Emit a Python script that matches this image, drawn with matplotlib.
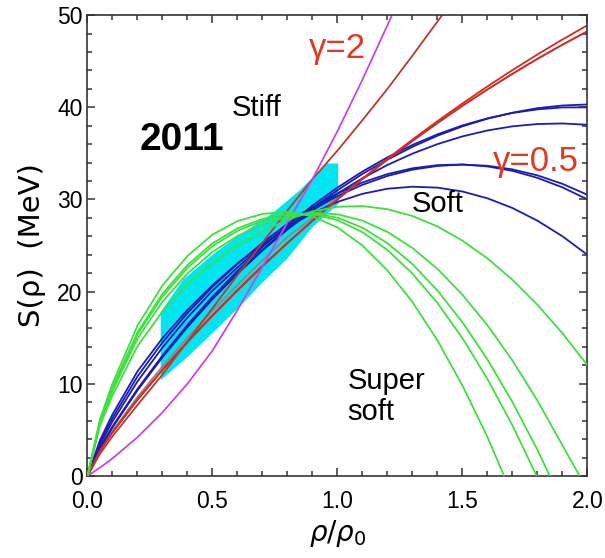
import numpy as np
import matplotlib
matplotlib.use("agg")
import matplotlib.pyplot as plt

plt.rcParams["font.family"] = ["Liberation Sans", "DejaVu Sans"]

nan = np.nan

# density grid rho/rho0
rho = [0.0, 0.05, 0.1, 0.2, 0.3, 0.4, 0.5, 0.6, 0.7, 0.8, 0.9,
       1.0, 1.1, 1.2, 1.3, 1.4, 1.5, 1.6, 1.7, 1.8, 1.9, 2.0]

# super soft (green)
green_1 = [0, 6.16, 10.02, 16.30, 20.67, 23.87, 26.18, 27.65, 28.43, 28.65, 28.17,
           26.96, 25.00, 22.29, 18.87, 14.70, 9.81, 4.22, -2.11, nan, nan, nan]
green_2 = [0, 5.92, 9.60, 15.58, 19.77, 22.89, 25.24, 26.86, 27.88, 28.43, 28.42,
           27.75, 26.45, 24.51, 21.95, 18.76, 14.95, 10.52, 5.48, -0.18, nan, nan]
green_3 = [0, 5.85, 9.47, 15.35, 19.48, 22.58, 24.94, 26.60, 27.70, 28.37, 28.50,
           28.02, 26.94, 25.25, 22.98, 20.12, 16.67, 12.63, 8.02, 2.83, -2.90, nan]
green_4 = [0, 5.71, 9.21, 14.91, 18.91, 21.95, 24.31, 26.04, 27.28, 28.14, 28.54,
           28.39, 27.70, 26.48, 24.73, 22.46, 19.66, 16.34, 12.52, 8.17, 3.32, -1.50]
green_5 = [0, 5.46, 8.73, 14.08, 17.85, 20.78, 23.16, 25.04, 26.54, 27.80, 28.71,
           29.20, 29.28, 28.94, 28.20, 27.07, 25.53, 23.60, 21.28, 18.57, 15.48, 12.01]

# soft (blue)
blue_1 = [0, 3.02, 5.28, 9.30, 12.89, 16.17, 19.20, 21.97, 24.54, 26.91, 29.04,
          31.00, 32.77, 34.32, 35.71, 36.91, 37.93, 38.76, 39.41, 39.90, 40.19, 40.30]
blue_2 = [0, 3.05, 5.35, 9.43, 13.07, 16.40, 19.45, 22.25, 24.84, 27.19, 29.34,
          31.29, 33.03, 34.57, 35.91, 37.06, 38.03, 38.80, 39.38, 39.77, 39.98, 39.99]
blue_3 = [0, 3.04, 5.32, 9.36, 12.94, 16.22, 19.21, 21.95, 24.46, 26.74, 28.80,
          30.65, 32.30, 33.74, 34.97, 36.00, 36.84, 37.48, 37.93, 38.18, 38.24, 38.10]
blue_4 = [0, 3.39, 5.91, 10.26, 13.94, 17.19, 20.10, 22.62, 25.00, 27.07, 28.86,
          30.37, 31.59, 32.55, 33.23, 33.63, 33.78, 33.65, 33.26, 32.61, 31.69, 30.50]
blue_5 = [0, 3.63, 6.28, 10.80, 14.49, 17.68, 20.52, 23.01, 25.30, 27.37, 29.15,
          30.64, 31.84, 32.75, 33.38, 33.72, 33.79, 33.58, 33.10, 32.34, 31.31, 30.00]
blue_6 = [0, 3.88, 6.68, 11.35, 14.95, 18.02, 20.69, 23.07, 25.10, 26.98, 28.52,
          29.73, 30.61, 31.16, 31.38, 31.28, 30.86, 30.12, 29.07, 27.69, 26.00, 23.99]

gray_1 = [0, 2.82, 4.89, 8.57, 11.90, 15.00, 17.94, 20.73, 23.40, 25.94, 28.00,
          30.20, 32.21, 34.33, 36.35, 38.29, 40.16, 41.93, 43.63, 45.25, 46.79, 48.24]

# stiff (red)
red_1 = [0, 2.72, 4.71, 8.26, 11.48, 14.51, 17.38, 20.12, 22.74, 25.26, 27.68,
         30.02, 32.26, 34.42, 36.49, 38.49, 40.41, 42.26, 44.03, 45.73, 47.35, 48.90]
red_2 = [0, 2.73, 4.74, 8.31, 11.54, 14.58, 17.45, 20.18, 22.80, 25.30, 27.70,
         30.00, 32.21, 34.33, 36.35, 38.29, 40.16, 41.93, 43.63, 45.25, 46.79, 48.24]
brown_1 = [0, 2.4, 4.3, 7.7, 11.0, 14.6, 18.2, 21.8, 25.3, 28.8, 32.2,
           35.3, 38.6, 42.0, 45.6, 49.3, 53.0, nan, nan, nan, nan, nan]
magenta_1 = [0, 0.9, 1.9, 4.2, 6.9, 10.0, 13.6, 18.0, 22.7, 27.5, 32.2,
             37.4, 43.0, 48.9, 55.0, nan, nan, nan, nan, nan, nan, nan]

# constraint band (cyan)
band_x = [0.293, 0.293, 0.383, 0.50, 0.60, 0.74, 0.85, 0.957, 1.003,
          1.003, 0.90, 0.80, 0.70, 0.61, 0.50, 0.40]
band_y = [10.4, 17.8, 21.3, 24.0, 26.0, 28.5, 31.0, 33.9, 33.9,
          29.5, 27.0, 23.6, 21.0, 18.4, 15.5, 12.9]

fig = plt.figure(figsize=(6.05, 5.58), dpi=100)
ax = fig.add_axes([0.1446, 0.147, 0.8264, 0.826])

ax.fill(band_x, band_y, color="#00e6f0", lw=0, zorder=1)

lw = 1.3
for s in [green_1, green_2, green_3, green_4, green_5]:
    ax.plot(rho, s, color="#3ee03e", lw=lw, zorder=3)
ax.plot(rho, gray_1, color="#8a8a8a", lw=lw, zorder=1.5)
for s in [blue_1, blue_2, blue_3, blue_4, blue_5, blue_6]:
    ax.plot(rho, s, color="#1c1cb4", lw=lw, zorder=2)
for s in [red_1, red_2]:
    ax.plot(rho, s, color="#d62a1e", lw=lw, zorder=2)
ax.plot(rho, brown_1, color="#b83a30", lw=lw, zorder=2)
ax.plot(rho, magenta_1, color="#cc44dd", lw=lw, zorder=2)

ax.set_xlim(0, 2)
ax.set_ylim(0, 50)
ax.set_xticks([0, 0.5, 1.0, 1.5, 2.0])
ax.set_xticklabels(["0.0", "0.5", "1.0", "1.5", "2.0"])
ax.set_yticks([0, 10, 20, 30, 40, 50])
ax.set_xticks(np.arange(0, 2.01, 0.1), minor=True)
ax.set_yticks(np.arange(0, 50.1, 2), minor=True)
ax.tick_params(which="both", direction="in", top=True, right=True,
               labelsize=16.5, width=1.1, color="#333333")
ax.tick_params(which="major", length=6)
ax.tick_params(which="minor", length=3.5)
ax.tick_params(axis="x", pad=10)
for sp in ax.spines.values():
    sp.set_linewidth(1.2)
    sp.set_color("#333333")

ax.set_xlabel(r"$\rho/\rho_0$", fontsize=20, labelpad=4)
ax.set_ylabel("S(ρ)  (MeV)", fontsize=21, family="DejaVu Sans", labelpad=8)

ax.text(1.0, 46.4, "γ=2", color="#e03a22", fontsize=25, ha="center", va="center")
ax.text(1.794, 34.1, "γ=0.5", color="#e03a22", fontsize=25, ha="center", va="center")
ax.text(0.675, 39.9, "Stiff", fontsize=21, ha="center", va="center")
ax.text(0.378, 36.4, "2011", fontsize=28, fontweight="bold", ha="center", va="center")
ax.text(1.40, 29.5, "Soft", fontsize=21, ha="center", va="center")
ax.text(1.04, 8.6, "Super\nsoft", fontsize=21, ha="left", va="center", linespacing=1.15)

plt.savefig("out.png", dpi=100)
